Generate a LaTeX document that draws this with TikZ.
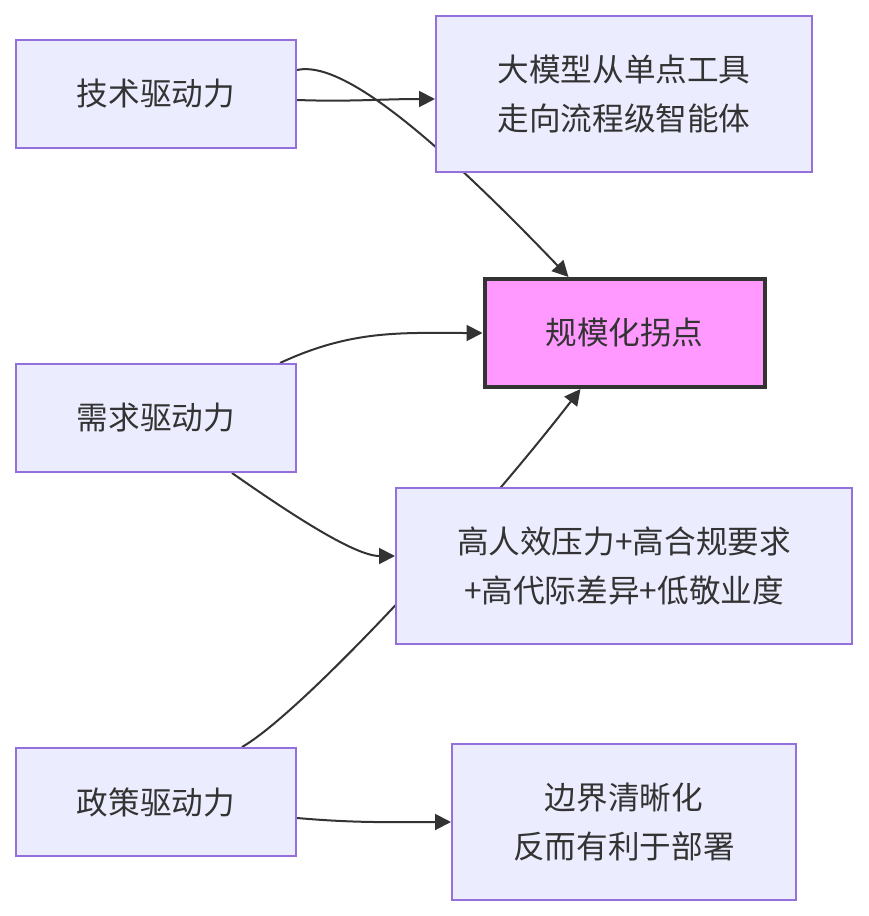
\documentclass[tikz,border=0pt]{standalone}
\usepackage{fontspec}
\setmainfont{Noto Sans CJK SC}
\usetikzlibrary{positioning,arrows.meta,backgrounds}
\definecolor{boxfill}{HTML}{ECECFF}
\definecolor{boxline}{HTML}{9370DB}
\definecolor{hubfill}{HTML}{FF99FF}
\definecolor{ink}{HTML}{333333}

\begin{document}
\begin{tikzpicture}[x=0.2mm, y=-0.2mm, >={Triangle[length=3.2mm,width=3.2mm]},
  font=\fontsize{18}{28}\selectfont, text=ink,
  box/.style={draw=boxline,fill=boxfill,line width=0.4mm,align=center,minimum height=21.6mm},
  hub/.style={draw=ink,fill=hubfill,line width=0.8mm,minimum width=56mm,minimum height=21.6mm},
  link/.style={draw=ink,line width=0.4mm,->}]
  \useasboundingbox (0,0) rectangle (868,916);
  % drivers
  \node[box,minimum width=56mm] (tech) at (156,94) {技术驱动力};
  \node[box,minimum width=56mm] (demand) at (156,418) {需求驱动力};
  \node[box,minimum width=56mm] (policy) at (156,802) {政策驱动力};
  % effects
  \node[box,minimum width=75.2mm,minimum height=31.2mm] (model) at (624,94) {大模型从单点工具\\走向流程级智能体};
  \node[hub] (turn) at (624.5,333) {规模化拐点};
  \node[box,minimum width=91.2mm,minimum height=31.2mm] (press) at (624,566) {高人效压力+高合规要求\\+高代际差异+低敬业度};
  \node[box,minimum width=68.8mm,minimum height=31.2mm] (bound) at (624,822) {边界清晰化\\反而有利于部署};
  \begin{scope}[on background layer]
    \draw[link] ([yshift=-1.2mm]tech.east) to[out=-2,in=180] ([yshift=-1mm]model.west);
    \draw[link] ([yshift=4.8mm]tech.east) .. controls +(44,-10) and +(-138,-144) .. ([xshift=-11.2mm]turn.north);
    \draw[link] ([xshift=24.8mm]demand.north) to[out=25,in=180] (turn.west);
    \draw[link] ([xshift=15.2mm]demand.south) .. controls +(60,42) and +(-40,0) .. ([yshift=2mm]press.west);
    \draw[link] ([xshift=17.2mm]policy.north) .. controls +(58,-33) and +(-110,142) .. ([xshift=-8.8mm]turn.south);
    \draw[link] ([yshift=-3.2mm]policy.east) to[out=-5,in=180] (bound.west);
  \end{scope}
\end{tikzpicture}
\end{document}
